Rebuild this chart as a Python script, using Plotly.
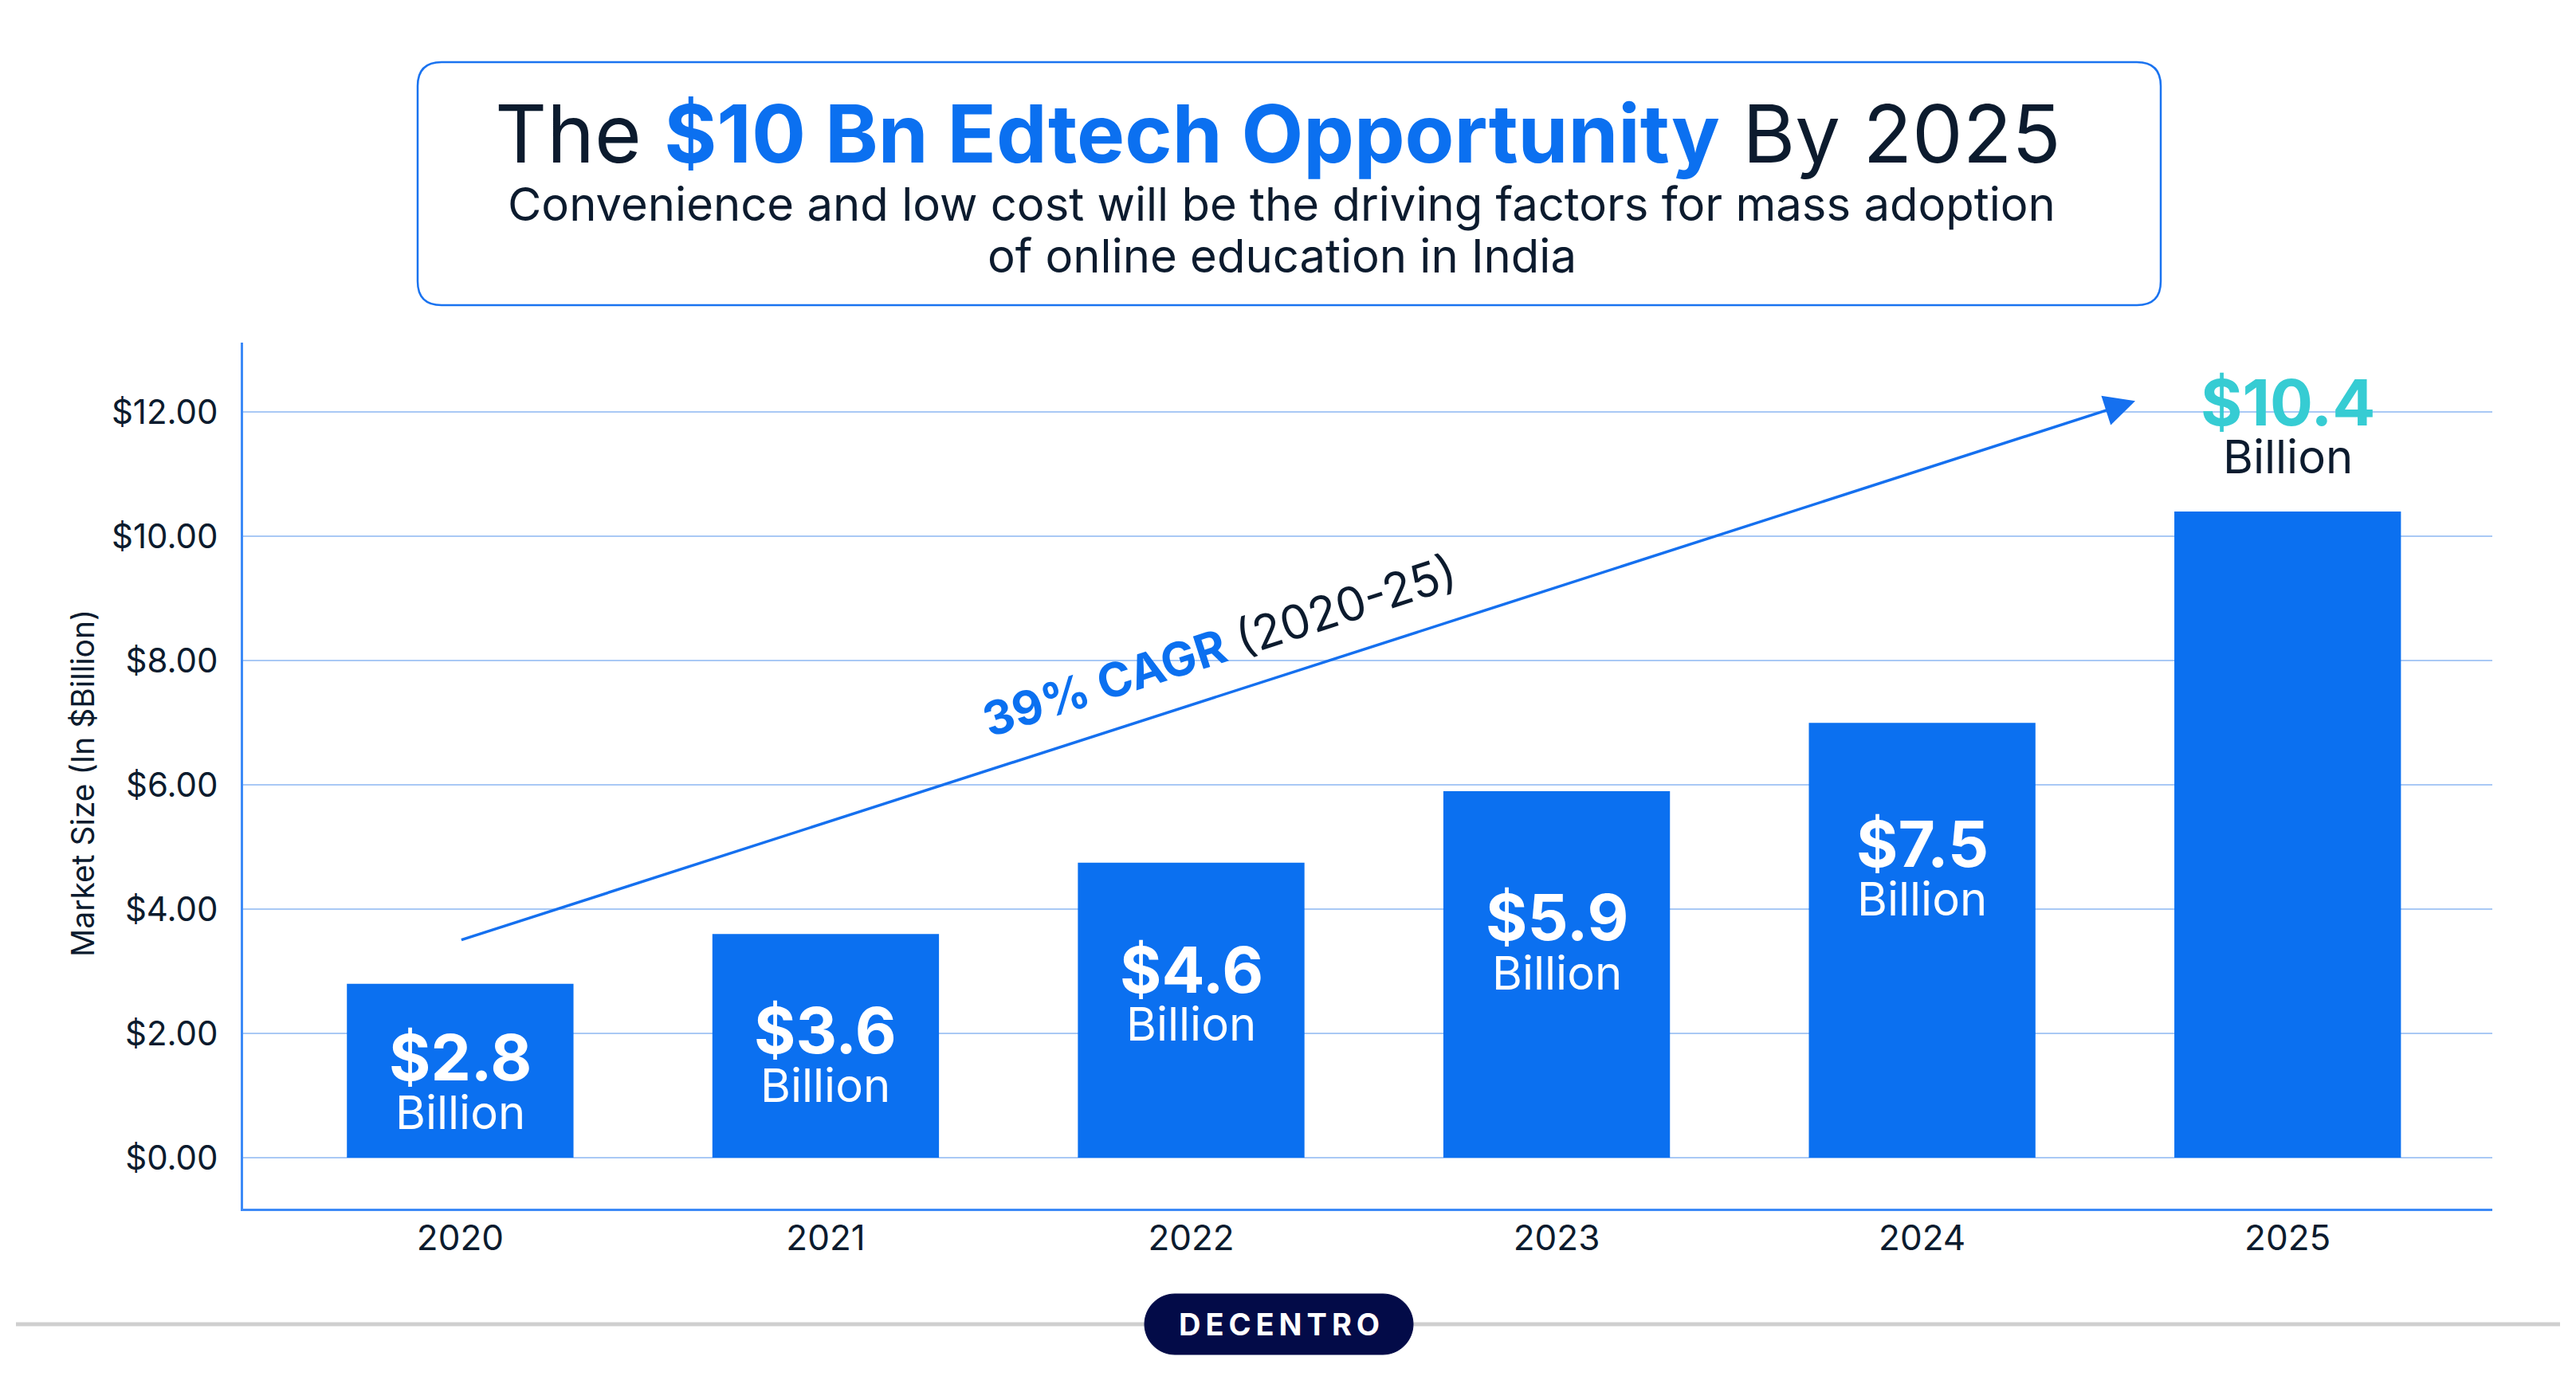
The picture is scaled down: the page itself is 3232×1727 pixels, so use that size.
import plotly.graph_objects as go

# ---------------- data ----------------
years = ["2020", "2021", "2022", "2023", "2024", "2025"]
market_size = [2.8, 3.6, 4.75, 5.9, 7.0, 10.4]          # bar heights as drawn
value_labels = ["$2.8", "$3.6", "$4.6", "$5.9", "$7.5", "$10.4"]
unit_label = "Billion"
y_tick_values = [0, 2, 4, 6, 8, 10, 12]
y_tick_labels = ["$0.00", "$2.00", "$4.00", "$6.00", "$8.00", "$10.00", "$12.00"]

title_plain_1 = "The "
title_bold = "$10 Bn Edtech Opportunity"
title_plain_2 = " By 2025"
subtitle_1 = "Convenience and low cost will be the driving factors for mass adoption"
subtitle_2 = "of online education in India"
cagr_bold = "39% CAGR"
cagr_plain = "(2020-25)"
y_title = "Market Size (In $Billion)"
brand = "DECENTRO"

# ---------------- layout positions (not data) ----------------
OFF = 8                                   # page body margin of the html page
W, H = 3232 - OFF, 1727 - OFF
PL, PR, PT, PB = 305, 3127, 430, 1517     # plot area in page pixels
value_label_y = [1.62, 2.06, 3.04, 3.88, 5.06, 12.17]
unit_label_y = [0.73, 1.17, 2.15, 2.98, 4.17, 11.29]
arrow_tail = (0.0, 3.5)
arrow_head = (4.583, 12.18)

# ---------------- styles ----------------
FONT = "Inter, 'Open Sans', sans-serif"
DARK = "#0C1B2E"
BLUE = "#0B70F0"
CYAN = "#36CCD3"
GRID = "#A9C9F5"
AXIS = "#3D8AF7"
NAVY = "#030B48"


def px(x):
    return (x - PL) / (PR - PL)


def py(y):
    return (PB - y) / (PB - PT)


def rounded_rect(x0, y0, x1, y1, r):
    pts = [
        f"M {px(x0 + r)} {py(y0)}",
        f"L {px(x1 - r)} {py(y0)}",
        f"Q {px(x1)} {py(y0)} {px(x1)} {py(y0 + r)}",
        f"L {px(x1)} {py(y1 - r)}",
        f"Q {px(x1)} {py(y1)} {px(x1 - r)} {py(y1)}",
        f"L {px(x0 + r)} {py(y1)}",
        f"Q {px(x0)} {py(y1)} {px(x0)} {py(y1 - r)}",
        f"L {px(x0)} {py(y0 + r)}",
        f"Q {px(x0)} {py(y0)} {px(x0 + r)} {py(y0)}",
        "Z",
    ]
    return " ".join(pts)


def pill(x0, y0, x1, y1):
    r = (y1 - y0) / 2
    k = 0.5523 * r
    ym = (y0 + y1) / 2
    pts = [
        f"M {px(x0 + r)} {py(y0)}",
        f"L {px(x1 - r)} {py(y0)}",
        f"C {px(x1 - r + k)} {py(y0)} {px(x1)} {py(ym - k)} {px(x1)} {py(ym)}",
        f"C {px(x1)} {py(ym + k)} {px(x1 - r + k)} {py(y1)} {px(x1 - r)} {py(y1)}",
        f"L {px(x0 + r)} {py(y1)}",
        f"C {px(x0 + r - k)} {py(y1)} {px(x0)} {py(ym + k)} {px(x0)} {py(ym)}",
        f"C {px(x0)} {py(ym - k)} {px(x0 + r - k)} {py(y0)} {px(x0 + r)} {py(y0)}",
        "Z",
    ]
    return " ".join(pts)


fig = go.Figure()
fig.add_trace(go.Bar(
    x=years, y=market_size, width=0.62,
    marker=dict(color=BLUE, line=dict(width=0)),
    hoverinfo="skip",
))

annotations = []
# value labels
for i, (lab, vy, uy) in enumerate(zip(value_labels, value_label_y, unit_label_y)):
    last = i == len(years) - 1
    annotations.append(dict(
        x=i, y=vy, xref="x", yref="y", text=f"<b>{lab}</b>", showarrow=False,
        font=dict(family=FONT, size=80, color=CYAN if last else "white"),
        xanchor="center", yanchor="middle",
    ))
    annotations.append(dict(
        x=i, y=uy, xref="x", yref="y", text=unit_label, showarrow=False,
        font=dict(family=FONT, size=58, color=DARK if last else "white"),
        xanchor="center", yanchor="middle",
    ))

# CAGR arrow
annotations.append(dict(
    x=arrow_head[0], y=arrow_head[1], ax=arrow_tail[0], ay=arrow_tail[1],
    xref="x", yref="y", axref="x", ayref="y", text="", showarrow=True,
    arrowhead=2, arrowsize=2.2, arrowwidth=3.5, arrowcolor="#1570EF", standoff=0,
))
annotations.append(dict(
    x=2.077, y=8.24, xref="x", yref="y", textangle=-17.8, showarrow=False,
    text=f"<b><span style='color:{BLUE}'>{cagr_bold}</span></b> {cagr_plain}",
    font=dict(family=FONT, size=59, color=DARK), xanchor="center", yanchor="middle",
))

# y-axis title
annotations.append(dict(
    x=px(103), y=py(983), xref="paper", yref="paper", text=y_title, textangle=-90,
    showarrow=False, font=dict(family=FONT, size=39, color=DARK),
    xanchor="center", yanchor="middle",
))

# title block
annotations.append(dict(
    x=px(1603), y=py(167), xref="paper", yref="paper", showarrow=False,
    text=f"{title_plain_1}<b><span style='color:{BLUE}'>{title_bold}</span></b>{title_plain_2}",
    font=dict(family=FONT, size=101, color=DARK), xanchor="center", yanchor="middle",
))
annotations.append(dict(
    x=px(1608), y=py(256), xref="paper", yref="paper", showarrow=False, text=subtitle_1,
    font=dict(family=FONT, size=58, color=DARK), xanchor="center", yanchor="middle",
))
annotations.append(dict(
    x=px(1608), y=py(321), xref="paper", yref="paper", showarrow=False, text=subtitle_2,
    font=dict(family=FONT, size=58, color=DARK), xanchor="center", yanchor="middle",
))

# brand text
annotations.append(dict(
    x=px(1605), y=py(1662), xref="paper", yref="paper", showarrow=False,
    text="<b>" + "\u2009".join(brand) + "</b>",
    font=dict(family=FONT, size=38, color="white"), xanchor="center", yanchor="middle",
))

shapes = [
    dict(type="path", xref="paper", yref="paper", path=rounded_rect(524, 78, 2711, 383, 30),
         line=dict(color="#1A73F0", width=2.5), fillcolor="white", layer="below"),
    dict(type="line", xref="paper", yref="paper", x0=px(20), x1=px(3212), y0=py(1662), y1=py(1662),
         line=dict(color="#CFCFCF", width=5), layer="above"),
    dict(type="path", xref="paper", yref="paper", path=pill(1436, 1624, 1773, 1700),
         line=dict(color=NAVY, width=1), fillcolor=NAVY, layer="above"),
]

fig.update_layout(
    width=W, height=H, autosize=False,
    margin=dict(l=PL - OFF, r=3232 - PR, t=PT - OFF, b=1727 - PB, pad=0),
    paper_bgcolor="white", plot_bgcolor="white",
    showlegend=False, bargap=0.38,
    annotations=annotations, shapes=shapes,
    font=dict(family=FONT, color=DARK),
)
fig.update_xaxes(
    type="category", range=[-0.594, 5.56],
    showline=True, linecolor=AXIS, linewidth=3, showgrid=False, ticks="",
    tickfont=dict(family=FONT, size=44, color=DARK), ticklabelstandoff=-4,
)
fig.update_yaxes(
    range=[-0.82, 13.12], tickvals=y_tick_values, ticktext=y_tick_labels,
    showline=True, linecolor=AXIS, linewidth=3, showgrid=True, gridcolor=GRID, gridwidth=2,
    zeroline=False, ticks="", tickfont=dict(family=FONT, size=42, color=DARK),
    ticklabelstandoff=20,
)

fig.write_html("out.html", config={"displayModeBar": False})
